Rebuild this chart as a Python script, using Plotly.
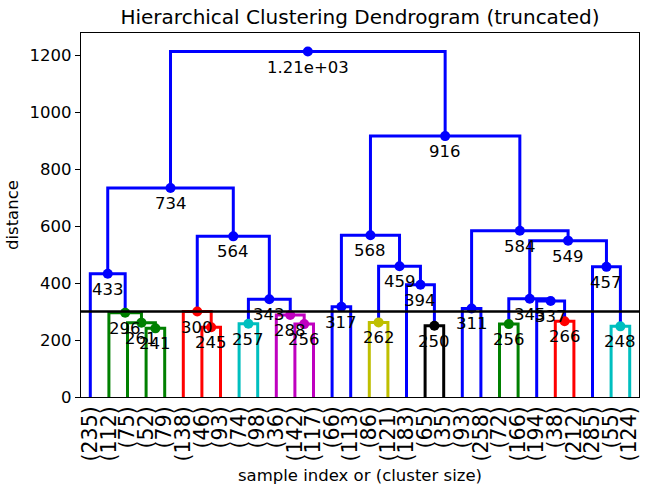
import plotly.graph_objects as go

# ---- data ----
leaf_labels = ["(235)", "(112)", "(75)", "(52)", "(79)", "(138)", "(46)", "(93)", "(74)", "(98)",
               "(36)", "(142)", "(117)", "(66)", "(113)", "(86)", "(121)", "(183)", "(65)", "(35)",
               "(93)", "(258)", "(72)", "(166)", "(194)", "(38)", "(212)", "(285)", "(55)", "(124)"]

# merges: node ids 0..29 are leaves, merge k creates node 30+k
merge_left = [3, 2, 1, 0, 6, 5, 8, 11, 10, 36, 35, 33, 13, 15, 18, 17, 43, 42, 20, 22, 25, 24, 49, 28, 27, 52, 48, 47, 41]
merge_right = [4, 30, 31, 32, 7, 34, 9, 12, 37, 38, 39, 40, 14, 16, 19, 44, 45, 46, 21, 23, 26, 50, 51, 29, 53, 54, 55, 56, 57]
merge_height = [241, 261, 296, 433, 245, 300, 257, 256, 288, 343, 564, 734, 317, 262, 250, 394, 459, 568,
                311, 256, 266, 337, 345, 248, 457, 549, 584, 916, 1213]
merge_color = ["g", "g", "g", "b", "r", "r", "c", "m", "m", "b", "b", "b", "b", "y", "k", "b", "b", "b",
               "b", "g", "r", "b", "b", "c", "b", "b", "b", "b", "b"]

max_d = 300
y_ticks = [0, 200, 400, 600, 800, 1000, 1200]

color_map = {"b": "#0000ff", "g": "#008000", "r": "#ff0000", "c": "#00bfbf",
             "m": "#bf00bf", "y": "#bfbf00", "k": "#000000"}

FS = 16.5   # 10pt equivalent
FL = 20.5   # 12pt equivalent

# ---- layout of the tree (scipy-style leaf coordinates) ----
n = len(leaf_labels)
xpos = {i: 10 * i + 5 for i in range(n)}
hpos = {i: 0 for i in range(n)}
for k, (l, r, h) in enumerate(zip(merge_left, merge_right, merge_height)):
    xpos[n + k] = (xpos[l] + xpos[r]) / 2
    hpos[n + k] = h

fig = go.Figure()
for k, (l, r, h, c) in enumerate(zip(merge_left, merge_right, merge_height, merge_color)):
    fig.add_trace(go.Scatter(
        x=[xpos[l], xpos[l], xpos[r], xpos[r]],
        y=[hpos[l], h, h, hpos[r]],
        mode="lines", line=dict(color=color_map[c], width=3),
        hoverinfo="skip", showlegend=False))

for k, (l, r, h, c) in enumerate(zip(merge_left, merge_right, merge_height, merge_color)):
    fig.add_trace(go.Scatter(
        x=[xpos[n + k]], y=[h], mode="markers",
        marker=dict(color=color_map[c], size=10),
        hoverinfo="skip", showlegend=False))
    fig.add_annotation(x=xpos[n + k], y=h, text="%.3g" % h, showarrow=False,
                       yanchor="top", yshift=-4, xanchor="center",
                       font=dict(family="DejaVu Sans", size=FS, color="black"))

fig.add_shape(type="line", xref="paper", x0=0, x1=1, yref="y", y0=max_d, y1=max_d,
              line=dict(color="black", width=2.5), layer="above")

fig.update_layout(
    width=651, height=488,
    margin=dict(l=81, r=10, t=33, b=91),
    plot_bgcolor="white", paper_bgcolor="white",
    font=dict(family="DejaVu Sans", color="black"),
    title=dict(text="Hierarchical Clustering Dendrogram (truncated)",
               x=0.5, xref="paper", xanchor="center",
               y=1 - 17 / 488, yref="container", yanchor="middle",
               font=dict(size=20, family="DejaVu Sans", color="black")),
    xaxis=dict(range=[0, 10 * n], tickvals=[xpos[i] for i in range(n)], ticktext=leaf_labels,
               tickangle=-90, ticks="", showgrid=False, zeroline=False,
               showline=True, linecolor="black", linewidth=1.2, mirror=True,
               tickfont=dict(size=FL, family="DejaVu Sans", color="black")),
    yaxis=dict(range=[0, 1278], tickvals=y_ticks, ticks="outside", ticklen=5, tickwidth=1.2,
               tickcolor="black", showgrid=False, zeroline=False,
               showline=True, linecolor="black", linewidth=1.2, mirror=True,
               tickfont=dict(size=FS, family="DejaVu Sans", color="black")),
)

fig.add_annotation(text="distance", xref="paper", yref="paper", x=0, y=0.5,
                   xshift=-69, xanchor="center", yanchor="middle", textangle=-90, showarrow=False,
                   font=dict(size=FS, family="DejaVu Sans", color="black"))
fig.add_annotation(text="sample index or (cluster size)", xref="paper", yref="paper",
                   x=0.5, y=0, yshift=-78, xanchor="center", yanchor="middle", showarrow=False,
                   font=dict(size=FS, family="DejaVu Sans", color="black"))

fig.write_html("out.html")
